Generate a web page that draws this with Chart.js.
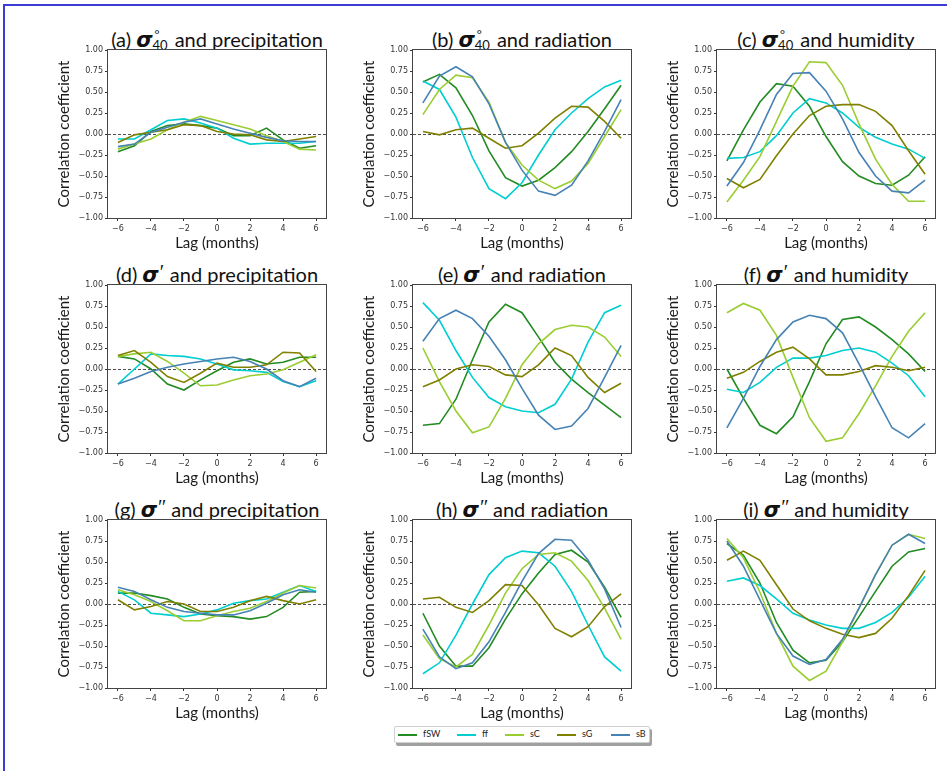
<!DOCTYPE html>
<html>
<head>
<meta charset="utf-8">
<script src="https://cdn.jsdelivr.net/npm/chart.js@4.4.0/dist/chart.umd.min.js"></script>
<style>
  body { margin: 0; background: #fff; width: 947px; height: 771px; overflow: hidden; position: relative; font-family: Lato, sans-serif; }
  .frame { position: absolute; left: 3px; top: 4px; width: 960px; height: 800px; border-top: 2px solid #3b3bd8; border-left: 2px solid #3b3bd8; }
  canvas { position: absolute; }
  .ttl { position: absolute; width: 320px; text-align: center; font-size: 20px; line-height: 22px; color: #111; white-space: nowrap; }
  .sg { font-family: "DejaVu Sans"; font-weight: bold; font-style: italic; font-size: 21px; }
  .st { display: inline-block; position: relative; width: 17px; height: 14px; }
  .st .up { position: absolute; left: 2px; top: -4px; font-size: 12px; line-height: 12px; }
  .st .dn { position: absolute; left: 0; top: 6px; font-size: 13px; line-height: 13px; }
  .pr { display: inline-block; position: relative; width: 6px; height: 14px; }
  .pr .up { position: absolute; left: 1px; top: -6px; font-size: 20px; line-height: 20px; font-family: "DejaVu Sans"; font-weight: 300; }
  .leg { position: absolute; left: 394px; top: 726px; width: 254px; height: 15px; border: 1px solid #d0d0d0; border-radius: 2px; box-shadow: 2px 3px 0 #a0a0a0; background: #fff; font-size: 9px; color: #222; }
  .leg i { position: absolute; top: 7px; width: 19px; height: 1.5px; }
  .leg span { position: absolute; top: 1px; line-height: 12px; }
</style>
</head>
<body>
<div class="frame"></div>
<div class="leg" id="legend"></div>

<script>
// lags (months) and tick labels
const lags = [-6, -5, -4, -3, -2, -1, 0, 1, 2, 3, 4, 5, 6];
const xTicks = [-6, -4, -2, 0, 2, 4, 6];
const yTicks = [-1, -0.75, -0.5, -0.25, 0, 0.25, 0.5, 0.75, 1];
const seriesNames = ['fSW', 'ff', 'sC', 'sG', 'sB'];
const seriesColors = ['#228b22', '#00ced1', '#9acd32', '#808000', '#4682b4'];

// (a) sigma40 and precipitation
const a_fSW = [-0.21, -0.14, 0.03, 0.10, 0.12, 0.10, 0.07, -0.02, -0.02, 0.07, -0.07, -0.17, -0.14];
const a_ff  = [-0.06, -0.06, 0.05, 0.16, 0.18, 0.13, 0.07, -0.05, -0.12, -0.11, -0.11, -0.11, -0.09];
const a_sC  = [-0.18, -0.12, -0.06, 0.05, 0.14, 0.21, 0.16, 0.11, 0.06, -0.02, -0.09, -0.18, -0.19];
const a_sG  = [-0.10, -0.01, 0.02, 0.05, 0.11, 0.10, 0.03, 0.00, -0.01, -0.07, -0.09, -0.06, -0.03];
const a_sB  = [-0.15, -0.12, 0.02, 0.08, 0.14, 0.18, 0.12, 0.06, 0.01, -0.04, -0.08, -0.09, -0.09];

// (b) sigma40 and radiation
const b_fSW = [0.62, 0.71, 0.55, 0.22, -0.20, -0.52, -0.62, -0.55, -0.40, -0.21, 0.03, 0.30, 0.58];
const b_ff  = [0.63, 0.53, 0.20, -0.28, -0.65, -0.77, -0.58, -0.25, 0.05, 0.25, 0.42, 0.56, 0.64];
const b_sC  = [0.23, 0.53, 0.70, 0.67, 0.38, -0.10, -0.37, -0.55, -0.65, -0.56, -0.35, -0.03, 0.29];
const b_sG  = [0.03, -0.01, 0.05, 0.07, -0.05, -0.17, -0.14, 0.01, 0.19, 0.33, 0.32, 0.15, -0.05];
const b_sB  = [0.37, 0.69, 0.80, 0.68, 0.36, -0.10, -0.43, -0.68, -0.73, -0.61, -0.32, 0.03, 0.41];

// (c) sigma40 and humidity
const c_fSW = [-0.32, 0.05, 0.38, 0.60, 0.57, 0.33, -0.03, -0.33, -0.50, -0.59, -0.61, -0.49, -0.27];
const c_ff  = [-0.29, -0.28, -0.21, -0.02, 0.25, 0.42, 0.37, 0.25, 0.08, -0.04, -0.12, -0.18, -0.29];
const c_sC  = [-0.81, -0.55, -0.27, 0.15, 0.57, 0.86, 0.85, 0.58, 0.12, -0.30, -0.60, -0.80, -0.80];
const c_sG  = [-0.53, -0.64, -0.54, -0.26, 0.00, 0.22, 0.33, 0.35, 0.35, 0.27, 0.10, -0.20, -0.48];
const c_sB  = [-0.62, -0.34, 0.05, 0.47, 0.72, 0.73, 0.51, 0.18, -0.22, -0.50, -0.68, -0.70, -0.55];

// (d) sigma' and precipitation
const d_fSW = [0.15, 0.12, 0.00, -0.18, -0.25, -0.13, -0.02, 0.08, 0.12, 0.06, 0.08, 0.14, 0.14];
const d_ff  = [-0.18, 0.00, 0.18, 0.16, 0.15, 0.12, 0.06, -0.01, -0.02, -0.04, -0.15, -0.21, -0.14];
const d_sC  = [0.15, 0.18, 0.20, 0.09, -0.05, -0.20, -0.19, -0.13, -0.08, -0.06, -0.01, 0.08, 0.17];
const d_sG  = [0.16, 0.22, 0.08, -0.09, -0.16, -0.05, 0.07, 0.02, 0.02, 0.05, 0.20, 0.19, -0.03];
const d_sB  = [-0.18, -0.11, -0.03, 0.02, 0.06, 0.09, 0.12, 0.14, 0.09, 0.00, -0.14, -0.21, -0.11];

// (e) sigma' and radiation
const e_fSW = [-0.67, -0.65, -0.36, 0.11, 0.56, 0.77, 0.67, 0.38, 0.08, -0.12, -0.28, -0.43, -0.58];
const e_ff  = [0.79, 0.58, 0.22, -0.10, -0.34, -0.45, -0.50, -0.52, -0.42, -0.12, 0.32, 0.67, 0.76];
const e_sC  = [0.25, -0.15, -0.50, -0.76, -0.69, -0.35, 0.05, 0.30, 0.47, 0.52, 0.50, 0.38, 0.15];
const e_sG  = [-0.21, -0.13, 0.00, 0.05, 0.03, -0.07, -0.09, 0.05, 0.25, 0.16, -0.10, -0.28, -0.17];
const e_sB  = [0.33, 0.60, 0.70, 0.60, 0.39, 0.11, -0.23, -0.55, -0.72, -0.68, -0.47, -0.10, 0.28];

// (f) sigma' and humidity
const f_fSW = [0.00, -0.35, -0.67, -0.77, -0.57, -0.15, 0.30, 0.59, 0.62, 0.50, 0.35, 0.18, -0.03];
const f_ff  = [-0.24, -0.28, -0.16, 0.02, 0.13, 0.13, 0.16, 0.22, 0.25, 0.20, 0.07, -0.08, -0.33];
const f_sC  = [0.67, 0.78, 0.70, 0.40, -0.10, -0.58, -0.86, -0.82, -0.53, -0.20, 0.15, 0.45, 0.67];
const f_sG  = [-0.11, -0.04, 0.09, 0.20, 0.26, 0.12, -0.07, -0.07, -0.03, 0.04, 0.02, -0.02, 0.02];
const f_sB  = [-0.70, -0.35, 0.03, 0.35, 0.56, 0.64, 0.60, 0.43, 0.06, -0.33, -0.70, -0.82, -0.65];

// (g) sigma'' and precipitation
const g_fSW = [0.13, 0.13, 0.10, 0.06, -0.04, -0.12, -0.14, -0.15, -0.18, -0.15, -0.04, 0.14, 0.15];
const g_ff  = [0.15, 0.05, -0.11, -0.13, -0.15, -0.12, -0.07, 0.01, 0.04, 0.06, 0.14, 0.22, 0.15];
const g_sC  = [0.17, 0.11, 0.03, -0.08, -0.20, -0.20, -0.14, -0.09, -0.05, 0.03, 0.13, 0.22, 0.19];
const g_sG  = [0.05, -0.07, -0.03, 0.03, 0.00, -0.09, -0.09, -0.04, 0.04, 0.09, 0.04, 0.00, 0.05];
const g_sB  = [0.20, 0.15, 0.05, -0.04, -0.09, -0.11, -0.13, -0.13, -0.08, 0.01, 0.11, 0.17, 0.14];

// (h) sigma'' and radiation
const h_fSW = [-0.11, -0.50, -0.74, -0.74, -0.52, -0.18, 0.12, 0.37, 0.59, 0.64, 0.50, 0.20, -0.16];
const h_ff  = [-0.83, -0.70, -0.37, 0.00, 0.35, 0.55, 0.63, 0.61, 0.45, 0.15, -0.25, -0.63, -0.80];
const h_sC  = [-0.37, -0.65, -0.75, -0.60, -0.25, 0.13, 0.42, 0.59, 0.61, 0.51, 0.28, -0.05, -0.42];
const h_sG  = [0.06, 0.08, -0.04, -0.10, 0.04, 0.23, 0.22, -0.01, -0.29, -0.39, -0.27, -0.03, 0.12];
const h_sB  = [-0.30, -0.63, -0.77, -0.70, -0.45, -0.10, 0.27, 0.60, 0.77, 0.76, 0.52, 0.18, -0.28];

// (i) sigma'' and humidity
const i_fSW = [0.72, 0.58, 0.25, -0.22, -0.55, -0.70, -0.67, -0.45, -0.15, 0.15, 0.45, 0.62, 0.66];
const i_ff  = [0.27, 0.31, 0.22, 0.06, -0.11, -0.19, -0.25, -0.29, -0.29, -0.22, -0.10, 0.08, 0.33];
const i_sC  = [0.78, 0.55, 0.14, -0.35, -0.74, -0.91, -0.80, -0.45, -0.05, 0.35, 0.70, 0.83, 0.78];
const i_sG  = [0.52, 0.63, 0.52, 0.23, -0.06, -0.20, -0.29, -0.36, -0.40, -0.35, -0.17, 0.10, 0.40];
const i_sB  = [0.75, 0.45, 0.05, -0.35, -0.62, -0.72, -0.66, -0.42, -0.05, 0.35, 0.70, 0.83, 0.72];

const panels = [
  { tag: '(a)', mark: 'o40', what: 'precipitation', data: [a_fSW, a_ff, a_sC, a_sG, a_sB] },
  { tag: '(b)', mark: 'o40', what: 'radiation',     data: [b_fSW, b_ff, b_sC, b_sG, b_sB] },
  { tag: '(c)', mark: 'o40', what: 'humidity',      data: [c_fSW, c_ff, c_sC, c_sG, c_sB] },
  { tag: '(d)', mark: 'p1',  what: 'precipitation', data: [d_fSW, d_ff, d_sC, d_sG, d_sB] },
  { tag: '(e)', mark: 'p1',  what: 'radiation',     data: [e_fSW, e_ff, e_sC, e_sG, e_sB] },
  { tag: '(f)', mark: 'p1',  what: 'humidity',      data: [f_fSW, f_ff, f_sC, f_sG, f_sB] },
  { tag: '(g)', mark: 'p2',  what: 'precipitation', data: [g_fSW, g_ff, g_sC, g_sG, g_sB] },
  { tag: '(h)', mark: 'p2',  what: 'radiation',     data: [h_fSW, h_ff, h_sC, h_sG, h_sB] },
  { tag: '(i)', mark: 'p2',  what: 'humidity',      data: [i_fSW, i_ff, i_sC, i_sG, i_sB] }
];

// grid geometry (plot area of each panel)
const plotLefts = [108, 413, 717];
const plotTops = [50, 285, 520];
const plotW = 218, plotH = 168;
const axisW = 53, axisH = 34, padT = 10, padR = 10;

const minus = v => (v < 0 ? '\u2212' : '') + Math.abs(v);

// dashed zero line + box spines
const framePlugin = {
  id: 'frame',
  beforeDatasetsDraw(chart) {
    const { ctx, chartArea: ca } = chart;
    const y0 = Math.round(chart.scales.y.getPixelForValue(0)) + 0.5;
    ctx.save();
    ctx.strokeStyle = '#222';
    ctx.lineWidth = 0.8;
    ctx.setLineDash([3, 2]);
    ctx.beginPath();
    ctx.moveTo(ca.left, y0);
    ctx.lineTo(ca.right, y0);
    ctx.stroke();
    ctx.restore();
  },
  afterDatasetsDraw(chart) {
    const { ctx, chartArea: ca } = chart;
    ctx.save();
    ctx.strokeStyle = '#444';
    ctx.lineWidth = 1;
    ctx.strokeRect(Math.round(ca.left) - 0.5, Math.round(ca.top) - 0.5, Math.round(ca.width) + 1, Math.round(ca.height) + 1);
    ctx.restore();
  }
};

function titleHtml(p) {
  let sup;
  if (p.mark === 'o40') sup = '<span class="st"><span class="up">\u00b0</span><span class="dn">40</span></span>';
  else if (p.mark === 'p1') sup = '<span class="pr"><span class="up">\u2032</span></span>';
  else sup = '<span class="pr" style="width:9px"><span class="up">\u2033</span></span>';
  return p.tag + ' <span class="sg">\u03c3</span>' + sup + ' and ' + p.what;
}

panels.forEach((p, k) => {
  const col = k % 3, row = Math.floor(k / 3);
  const left = plotLefts[col], top = plotTops[row];

  const t = document.createElement('div');
  t.className = 'ttl';
  t.style.left = (left + plotW / 2 - 160) + 'px';
  t.style.top = (top - 22) + 'px';
  t.innerHTML = titleHtml(p);
  document.body.appendChild(t);

  const cv = document.createElement('canvas');
  cv.width = axisW + plotW + padR;
  cv.height = padT + plotH + axisH;
  cv.style.left = (left - axisW) + 'px';
  cv.style.top = (top - padT) + 'px';
  document.body.appendChild(cv);

  new Chart(cv.getContext('2d'), {
    type: 'line',
    data: {
      datasets: seriesNames.map((name, s) => ({
        label: name,
        data: lags.map((l, j) => ({ x: l, y: p.data[s][j] })),
        borderColor: seriesColors[s],
        backgroundColor: seriesColors[s],
        borderWidth: 1.6,
        pointRadius: 0,
        tension: 0,
        fill: false,
        order: 5 - s
      }))
    },
    options: {
      responsive: false,
      animation: false,
      devicePixelRatio: 1,
      layout: { padding: { top: padT, right: padR, left: 0, bottom: 0 } },
      plugins: { legend: { display: false }, tooltip: { enabled: false } },
      scales: {
        x: {
          type: 'linear',
          min: -6.6,
          max: 6.6,
          afterBuildTicks: s => { s.ticks = xTicks.map(v => ({ value: v })); },
          afterFit: s => { s.height = axisH; },
          border: { display: false },
          grid: { display: true, drawOnChartArea: false, drawTicks: true, tickLength: 3, tickColor: '#333' },
          ticks: { font: { family: 'DejaVu Sans', size: 8 }, color: '#333', padding: 3, maxRotation: 0, autoSkip: false, callback: v => minus(v) },
          title: { display: true, text: 'Lag (months)', font: { family: 'Lato', size: 15 }, color: '#1a1a1a', padding: 0 }
        },
        y: {
          type: 'linear',
          min: -1,
          max: 1,
          afterBuildTicks: s => { s.ticks = yTicks.map(v => ({ value: v })); },
          afterFit: s => { s.width = axisW; },
          border: { display: false },
          grid: { display: true, drawOnChartArea: false, drawTicks: true, tickLength: 3, tickColor: '#333' },
          ticks: { font: { family: 'DejaVu Sans', size: 8 }, color: '#333', padding: 2, autoSkip: false, callback: v => (v < 0 ? '\u2212' : '') + Math.abs(v).toFixed(2) },
          title: { display: true, text: 'Correlation coefficient', font: { family: 'Lato', size: 15 }, color: '#1a1a1a', padding: 0 }
        }
      }
    },
    plugins: [framePlugin]
  });
});

// shared legend below the grid
const legLefts = [3, 62, 110, 162, 216];
const legend = document.getElementById('legend');
seriesNames.forEach((name, s) => {
  const ln = document.createElement('i');
  ln.style.left = legLefts[s] + 'px';
  ln.style.background = seriesColors[s];
  legend.appendChild(ln);
  const tx = document.createElement('span');
  tx.style.left = (legLefts[s] + 25) + 'px';
  tx.textContent = name;
  legend.appendChild(tx);
});
</script>
</body>
</html>
